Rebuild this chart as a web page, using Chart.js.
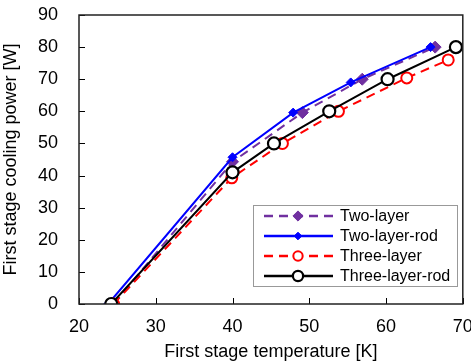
<!DOCTYPE html>
<html>
<head>
<meta charset="utf-8">
<script src="https://cdn.jsdelivr.net/npm/chart.js@4"></script>
<style>
  html, body { margin: 0; padding: 0; background: #fff; }
  #wrap { width: 471px; height: 363px; }
</style>
</head>
<body>
<div id="wrap"><canvas id="chart" width="471" height="363"></canvas></div>
<script>
// values
const twoLayerT = [24.5, 40.0, 49.1, 56.9, 66.4];
const twoLayerP = [0, 44.3, 59.6, 70.0, 80.0];
const twoLayerRodT = [23.8, 40.0, 47.9, 55.4, 65.8];
const twoLayerRodP = [0, 45.7, 59.6, 69.0, 80.0];
const threeLayerT = [24.5, 39.9, 46.5, 53.8, 62.7, 68.1];
const threeLayerP = [0, 39.3, 50.0, 60.0, 70.4, 76.0];
const threeLayerRodT = [24.2, 40.0, 45.4, 52.6, 60.2, 69.1];
const threeLayerRodP = [0, 41.0, 50.0, 60.0, 70.0, 80.0];

const xTicks = [20, 30, 40, 50, 60, 70];
const yTicks = [0, 10, 20, 30, 40, 50, 60, 70, 80, 90];

const FONT = '"Liberation Sans", Arial, sans-serif';

function pts(xs, ys) {
    return xs.map((x, i) => ({ x: x, y: ys[i] }));
}

const series = [
    { label: 'Two-layer', data: pts(twoLayerT, twoLayerP), color: '#7030A0', dash: [9, 6],
      style: 'rectRot', radius: 6, fill: '#7030A0', bw: 1, order: 3 },
    { label: 'Two-layer-rod', data: pts(twoLayerRodT, twoLayerRodP), color: '#0000FF', dash: [],
      style: 'rectRot', radius: 4.5, fill: '#0000FF', bw: 1, order: 2 },
    { label: 'Three-layer', data: pts(threeLayerT, threeLayerP), color: '#FF0000', dash: [9, 6],
      style: 'circle', radius: 5.5, fill: '#FFFFFF', bw: 2, order: 1 },
    { label: 'Three-layer-rod', data: pts(threeLayerRodT, threeLayerRodP), color: '#000000', dash: [],
      style: 'circle', radius: 6, fill: '#FFFFFF', bw: 2.2, order: 0 }
];

// frame, inward ticks and legend box
const framePlugin = {
    id: 'frame',
    afterDraw(chart) {
        const ctx = chart.ctx;
        const a = chart.chartArea;
        const xs = chart.scales.x, ys = chart.scales.y;
        ctx.save();
        ctx.strokeStyle = '#000';
        ctx.lineWidth = 1;
        xTicks.forEach(v => {
            const px = Math.round(xs.getPixelForValue(v)) + 0.5;
            ctx.beginPath();
            ctx.moveTo(px, a.bottom);
            ctx.lineTo(px, a.bottom - 6);
            ctx.stroke();
        });
        yTicks.forEach(v => {
            const py = Math.round(ys.getPixelForValue(v)) + 0.5;
            ctx.beginPath();
            ctx.moveTo(a.left, py);
            ctx.lineTo(a.left + 6, py);
            ctx.stroke();
        });
        ctx.lineWidth = 1.5;
        ctx.strokeStyle = '#222';
        ctx.strokeRect(a.left, a.top, a.right - a.left, a.bottom - a.top);

        // legend
        const lx = 253, ly = 205, lw = 204, lh = 81;
        ctx.fillStyle = '#fff';
        ctx.fillRect(lx, ly, lw, lh);
        ctx.lineWidth = 1;
        ctx.strokeStyle = '#999';
        ctx.strokeRect(lx + 0.5, ly + 0.5, lw, lh);
        ctx.font = '16px ' + FONT;
        ctx.textBaseline = 'middle';
        series.forEach((s, i) => {
            const y = ly + 11 + i * 20;
            ctx.strokeStyle = s.color;
            ctx.lineWidth = 2.5;
            ctx.setLineDash(s.dash);
            ctx.beginPath();
            ctx.moveTo(lx + 11, y);
            ctx.lineTo(lx + 80, y);
            ctx.stroke();
            ctx.setLineDash([]);
            ctx.fillStyle = s.fill;
            ctx.strokeStyle = s.color;
            ctx.lineWidth = s.bw;
            Chart.helpers.drawPoint(ctx, {
                pointStyle: s.style, radius: s.radius * 0.85, rotation: 0, borderWidth: s.bw
            }, lx + 45, y);
            ctx.fillStyle = '#000';
            ctx.fillText(s.label, lx + 87, y + 1);
        });
        ctx.restore();
    }
};

new Chart(document.getElementById('chart'), {
    type: 'scatter',
    data: {
        datasets: series.map(s => ({
            label: s.label,
            data: s.data,
            showLine: true,
            borderColor: s.color,
            borderWidth: 2,
            borderDash: s.dash,
            pointStyle: s.style,
            pointRadius: s.radius,
            pointBackgroundColor: s.fill,
            pointBorderColor: s.color,
            pointBorderWidth: s.bw,
            order: s.order,
            tension: 0
        }))
    },
    options: {
        responsive: false,
        animation: false,
        layout: { padding: { top: 15, right: 8, left: 0, bottom: 0 } },
        plugins: {
            legend: { display: false },
            tooltip: { enabled: false }
        },
        scales: {
            x: {
                type: 'linear',
                min: 20, max: 70,
                afterBuildTicks: s => { s.ticks = xTicks.map(v => ({ value: v })); },
                afterFit: s => { s.height = 59; s.paddingLeft = 0; s.paddingRight = 0; },
                grid: { display: false, drawTicks: false },
                border: { display: false },
                ticks: { color: '#000', font: { family: FONT, size: 18 }, padding: 12 },
                title: { display: true, text: 'First stage temperature [K]', color: '#000',
                         font: { family: FONT, size: 18 }, padding: { top: 2, bottom: 0 } }
            },
            y: {
                type: 'linear',
                min: 0, max: 90,
                afterBuildTicks: s => { s.ticks = yTicks.map(v => ({ value: v })); },
                afterFit: s => { s.width = 79; s.paddingTop = 0; s.paddingBottom = 0; },
                grid: { display: false, drawTicks: false },
                border: { display: false },
                ticks: { color: '#000', font: { family: FONT, size: 18 }, padding: 21 },
                title: { display: true, text: 'First stage cooling power [W]', color: '#000',
                         font: { family: FONT, size: 18 }, padding: { top: 0, bottom: 0 } }
            }
        }
    },
    plugins: [framePlugin]
});
</script>
</body>
</html>
